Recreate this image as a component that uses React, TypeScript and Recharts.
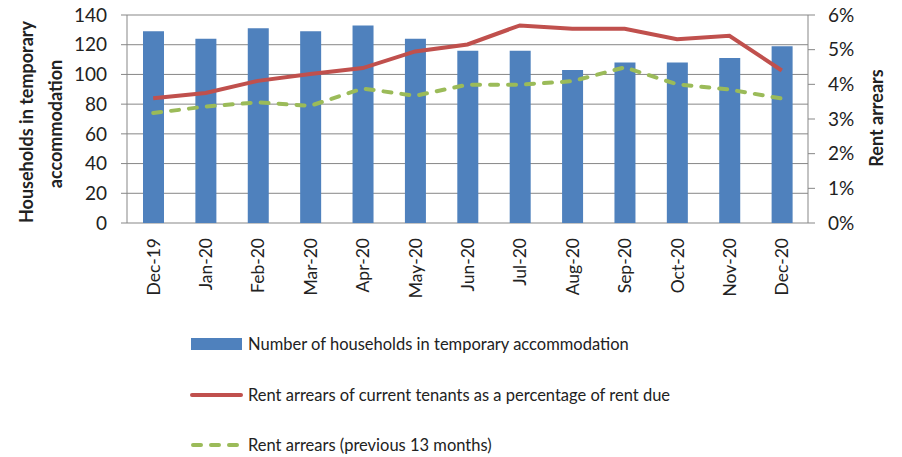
import React from 'react';
import { ComposedChart, Bar, Line, XAxis, YAxis, CartesianGrid, Legend } from 'recharts';

const months = ['Dec-19', 'Jan-20', 'Feb-20', 'Mar-20', 'Apr-20', 'May-20', 'Jun-20', 'Jul-20', 'Aug-20', 'Sep-20', 'Oct-20', 'Nov-20', 'Dec-20'];
const households = [129, 124, 131, 129, 133, 124, 116, 116, 103, 108, 108, 111, 119];
const rentArrears = [3.6, 3.75, 4.1, 4.3, 4.47, 4.95, 5.15, 5.7, 5.6, 5.6, 5.3, 5.4, 4.4];
const rentArrears13 = [3.17, 3.36, 3.48, 3.38, 3.88, 3.67, 3.99, 3.99, 4.09, 4.49, 4.0, 3.85, 3.59];
const leftTicks = [0, 20, 40, 60, 80, 100, 120, 140];
const rightTicks = [0, 1, 2, 3, 4, 5, 6];
const edgeTicks = [0, 1, 2, 3, 4, 5, 6, 7, 8, 9, 10, 11, 12, 13];

const seriesNames = {
  households: 'Number of households in temporary accommodation',
  rent: 'Rent arrears of current tenants as a percentage of rent due',
  rent13: 'Rent arrears (previous 13 months)',
};
const leftTitleLines = ['Households in temporary', 'accommodation'];
const rightTitle = 'Rent arrears';

const data = months.map((m, i) => ({
  month: m,
  households: households[i],
  rent: rentArrears[i],
  rent13: rentArrears13[i],
}));

const BLUE = '#4F81BD';
const RED = '#C0504D';
const GREEN = '#9BBB59';
const GRID = '#878787';
const TEXT = '#222';
const FONT = 'Lato, sans-serif';

const XTick = (props: any) => {
  const { x, y, payload } = props;
  return (
    <text x={x} y={y} transform={`rotate(-90, ${x}, ${y})`} textAnchor="end" dominantBaseline="central"
      fontFamily={FONT} fontSize={17.5} fill={TEXT}>
      {payload.value}
    </text>
  );
};

const LeftTitle = () => (
  <g>
    <text x={33} y={122} transform="rotate(-90, 33, 122)" textAnchor="middle" fontFamily={FONT} fontWeight="bold" fontSize={18} fill={TEXT}>
      {leftTitleLines[0]}
    </text>
    <text x={62} y={124} transform="rotate(-90, 62, 124)" textAnchor="middle" fontFamily={FONT} fontWeight="bold" fontSize={18} fill={TEXT}>
      {leftTitleLines[1]}
    </text>
  </g>
);

const RightTitle = () => (
  <text x={883} y={118} transform="rotate(-90, 883, 118)" textAnchor="middle" fontFamily={FONT} fontWeight="bold" fontSize={18} fill={TEXT}>
    {rightTitle}
  </text>
);

const LegendContent = () => {
  const rows = [
    { key: 'households', top: 0 },
    { key: 'rent', top: 51 },
    { key: 'rent13', top: 101 },
  ];
  return (
    <div style={{ position: 'relative', width: 600, height: 125, fontFamily: FONT, fontSize: 16.5, color: TEXT }}>
      {rows.map((r) => (
        <div key={r.key} style={{ position: 'absolute', left: 0, top: r.top, height: 20, display: 'flex', alignItems: 'center', whiteSpace: 'nowrap' }}>
          <svg width={54} height={20} style={{ display: 'block' }}>
            {r.key === 'households' && <rect x={1} y={4} width={51} height={12} fill={BLUE} />}
            {r.key === 'rent' && <line x1={2} y1={10} x2={51} y2={10} stroke={RED} strokeWidth={4} strokeLinecap="round" />}
            {r.key === 'rent13' && <line x1={3} y1={10} x2={51} y2={10} stroke={GREEN} strokeWidth={4} strokeLinecap="round" strokeDasharray="8 10" />}
          </svg>
          <span style={{ marginLeft: 4 }}>{(seriesNames as any)[r.key]}</span>
        </div>
      ))}
    </div>
  );
};

export default function App() {
  return (
    <div style={{ position: 'absolute', left: 0, top: 0, width: 902, height: 457, background: '#fff' }}>
      <ComposedChart width={902} height={457} data={data} margin={{ top: 15, right: 0, bottom: 0, left: 0 }}>
        <CartesianGrid yAxisId="left" vertical={false} stroke={GRID} strokeWidth={1} />
        <XAxis xAxisId="edges" type="number" domain={[0, 13]} ticks={edgeTicks} tick={false} height={0}
          axisLine={{ stroke: GRID }} tickLine={{ stroke: GRID }} tickSize={6} allowDataOverflow />
        <XAxis xAxisId="cat" dataKey="month" height={234} axisLine={false} tickLine={false} tickSize={0} tickMargin={15}
          tick={<XTick />} interval={0} />
        <YAxis yAxisId="left" domain={[0, 140]} ticks={leftTicks} width={127} axisLine={{ stroke: GRID }} tickLine={{ stroke: GRID }}
          tickSize={6} tickMargin={14} interval={0}
          tick={{ fontFamily: FONT, fontSize: 19, fill: TEXT }} label={<LeftTitle />} />
        <YAxis yAxisId="right" orientation="right" domain={[0, 6]} ticks={rightTicks} width={94} axisLine={{ stroke: GRID }}
          tickLine={{ stroke: GRID }} tickSize={7} tickMargin={13} interval={0} tickFormatter={(v: number) => `${v}%`}
          tick={{ fontFamily: FONT, fontSize: 19, fill: TEXT }} label={<RightTitle />} />
        <Bar xAxisId="cat" yAxisId="left" dataKey="households" name={seriesNames.households} fill={BLUE} barSize={21} isAnimationActive={false} />
        <Line xAxisId="cat" yAxisId="right" dataKey="rent" name={seriesNames.rent} stroke={RED} strokeWidth={4} dot={false} type="linear" isAnimationActive={false} />
        <Line xAxisId="cat" yAxisId="right" dataKey="rent13" name={seriesNames.rent13} stroke={GREEN} strokeWidth={4} strokeDasharray="8 10" strokeLinecap="round" dot={false} type="linear" isAnimationActive={false} />
        <Legend layout="vertical" verticalAlign="middle" align="center" content={<LegendContent />}
          wrapperStyle={{ left: 190, top: 334, width: 600, height: 125 }} />
      </ComposedChart>
    </div>
  );
}
